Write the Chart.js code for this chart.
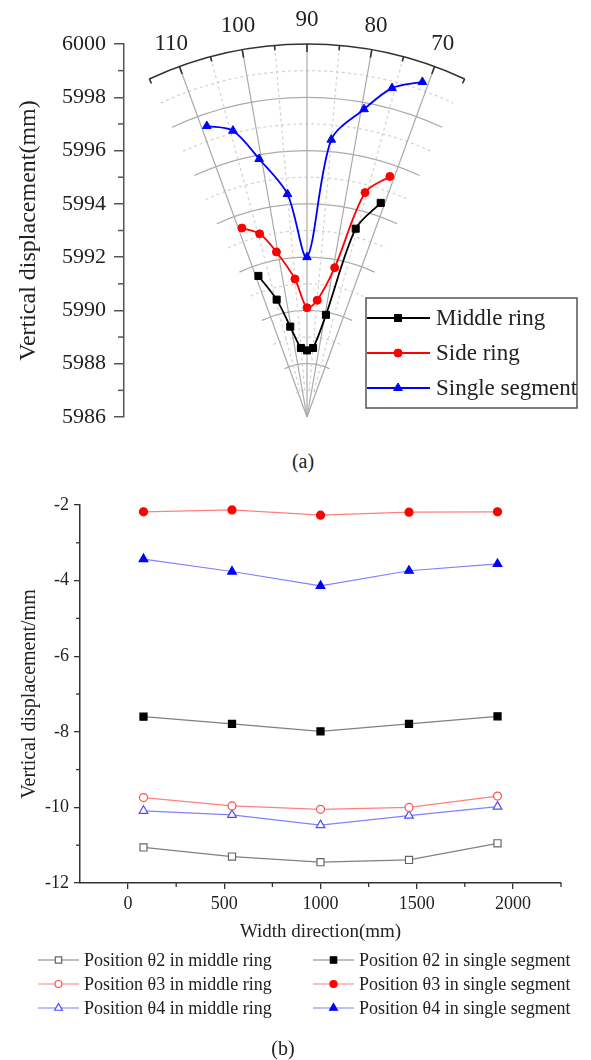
<!DOCTYPE html>
<html>
<head>
<meta charset="utf-8">
<script src="https://cdn.jsdelivr.net/npm/chart.js@4.4.1/dist/chart.umd.min.js"></script>
<style>
  html, body { margin: 0; padding: 0; background: #fff; }
  #wrap { position: relative; width: 591px; height: 1060px; overflow: hidden; }
  #polarBox { position: absolute; left: 0; top: 0; width: 591px; height: 440px; }
  #lineBox { position: absolute; left: 0; top: 470px; width: 591px; height: 590px; }
  .cap { position: absolute; font-family: 'Liberation Serif', 'Times New Roman', serif; font-size: 20px; color: #222; transform: translate(-50%, -50%); }
</style>
</head>
<body>
<div id="wrap">
  <div id="polarBox"><canvas id="polarChart"></canvas></div>
  <div class="cap" style="left:303px;top:461px">(a)</div>
  <div id="lineBox"><canvas id="lineChart"></canvas></div>
  <div class="cap" style="left:283px;top:1048px">(b)</div>
</div>

<script>
/* ---------- (a) polar sector: radial value vs angle ---------- */
const polarAngles   = [109, 104.5, 100.5, 95, 90, 85, 79.5, 75.5, 71];
const middleRing    = [5991.6, 5990.55, 5989.45, 5988.6, 5988.5, 5988.6, 5989.9, 5993.3, 5994.5];
const sideRing      = [5993.5, 5993.1, 5992.3, 5991.2, 5990.1, 5990.4, 5991.7, 5994.7, 5995.55];
const singleSegment = [5997.55, 5997.1, 5995.85, 5994.4, 5992.0, 5996.45, 5997.75, 5998.75, 5999.3];
const angleTicks    = [70, 80, 90, 100, 110];
const radialMin = 5986, radialMax = 6000;
const sectorFrom = 65, sectorTo = 115;

/* ---------- (b) width direction ---------- */
const widthPos     = [80, 540, 1000, 1460, 1920];
const theta2Middle = [-11.06, -11.30, -11.45, -11.39, -10.95];
const theta3Middle = [-9.74, -9.96, -10.05, -10.00, -9.70];
const theta4Middle = [-10.09, -10.20, -10.47, -10.22, -9.98];
const theta2Single = [-7.60, -7.79, -7.99, -7.79, -7.59];
const theta3Single = [-2.18, -2.13, -2.27, -2.19, -2.18];
const theta4Single = [-3.43, -3.76, -4.14, -3.74, -3.56];
const widthTicks   = [0, 500, 1000, 1500, 2000];
const widthMinor   = [250, 750, 1250, 1750, 2250];
const dispMinor    = [-3, -5, -7, -9, -11];

const SERIF = "'Liberation Serif', 'Times New Roman', serif";
Chart.defaults.font.family = SERIF;
Chart.defaults.color = '#222';

const toRad = d => d * Math.PI / 180;

function toXY(vals) {
  return vals.map((v, i) => ({
    x: (v - radialMin) * Math.cos(toRad(polarAngles[i])),
    y: radialMin + (v - radialMin) * Math.sin(toRad(polarAngles[i]))
  }));
}

function drawMarker(ctx, style, x, y, r, fill, stroke, lw) {
  ctx.save();
  ctx.beginPath();
  if (style === 'rect') {
    const s = Math.SQRT1_2 * r;
    ctx.rect(x - s, y - s, 2 * s, 2 * s);
  } else if (style === 'triangle') {
    ctx.moveTo(x, y - r);
    ctx.lineTo(x + Math.sin(toRad(120)) * r, y + r / 2);
    ctx.lineTo(x - Math.sin(toRad(120)) * r, y + r / 2);
    ctx.closePath();
  } else {
    ctx.arc(x, y, r, 0, Math.PI * 2);
  }
  ctx.fillStyle = fill;
  ctx.fill();
  ctx.lineWidth = lw;
  ctx.strokeStyle = stroke;
  ctx.stroke();
  ctx.restore();
}

// polar grid, outer scale arc, angle labels, minor ticks on the left axis
const polarGrid = {
  id: 'polarGrid',
  beforeDatasetsDraw(chart) {
    const { ctx, scales: { x, y } } = chart;
    const cx = x.getPixelForValue(0), cy = y.getPixelForValue(radialMin);
    const k = cy - y.getPixelForValue(radialMin + 1);
    const a0 = -toRad(sectorTo), a1 = -toRad(sectorFrom);
    const R = (radialMax - radialMin) * k;
    ctx.save();

    for (let v = radialMin + 1; v < radialMax; v++) {
      const odd = v % 2 !== 0;
      ctx.beginPath();
      ctx.setLineDash(odd ? [3, 3] : []);
      ctx.strokeStyle = odd ? '#d2d2d2' : '#aaaaaa';
      ctx.lineWidth = 1.2;
      ctx.arc(cx, cy, (v - radialMin) * k, a0, a1);
      ctx.stroke();
    }

    for (let d = 70; d <= 110; d += 5) {
      const major = d % 10 === 0;
      const r0 = major ? 0 : k;
      ctx.beginPath();
      ctx.setLineDash(major ? [] : [3, 3]);
      ctx.strokeStyle = major ? '#aaaaaa' : '#d2d2d2';
      ctx.lineWidth = 1.2;
      ctx.moveTo(cx + r0 * Math.cos(toRad(d)), cy - r0 * Math.sin(toRad(d)));
      ctx.lineTo(cx + R * Math.cos(toRad(d)), cy - R * Math.sin(toRad(d)));
      ctx.stroke();
    }

    ctx.setLineDash([]);
    ctx.strokeStyle = '#333';
    ctx.lineWidth = 1.6;
    ctx.beginPath();
    ctx.arc(cx, cy, R, a0, a1);
    ctx.stroke();
    for (let d = sectorFrom; d <= sectorTo; d += 5) {
      const len = d % 10 === 0 ? 8 : 5;
      ctx.beginPath();
      ctx.moveTo(cx + R * Math.cos(toRad(d)), cy - R * Math.sin(toRad(d)));
      ctx.lineTo(cx + (R - len) * Math.cos(toRad(d)), cy - (R - len) * Math.sin(toRad(d)));
      ctx.stroke();
    }

    ctx.fillStyle = '#222';
    ctx.font = '23px ' + SERIF;
    ctx.textAlign = 'center';
    ctx.textBaseline = 'middle';
    angleTicks.forEach(d => {
      const rl = R + 24;
      ctx.fillText(String(d), cx + rl * Math.cos(toRad(d)), cy - rl * Math.sin(toRad(d)));
    });

    // minor ticks on the y axis
    ctx.strokeStyle = '#555';
    ctx.lineWidth = 1.5;
    for (let v = radialMin + 1; v < radialMax; v += 2) {
      const py = y.getPixelForValue(v);
      ctx.beginPath();
      ctx.moveTo(y.right, py);
      ctx.lineTo(y.right - 6, py);
      ctx.stroke();
    }
    ctx.restore();
  }
};

const polarLegend = {
  id: 'polarLegend',
  afterDraw(chart) {
    const ctx = chart.ctx;
    ctx.save();
    ctx.strokeStyle = '#555';
    ctx.lineWidth = 1.5;
    ctx.strokeRect(366, 298, 211, 110);
    ctx.font = '23px ' + SERIF;
    ctx.textBaseline = 'middle';
    ctx.textAlign = 'left';
    chart.data.datasets.forEach((ds, i) => {
      const yy = 318 + i * 35;
      ctx.beginPath();
      ctx.strokeStyle = ds.borderColor;
      ctx.lineWidth = 1.8;
      ctx.moveTo(367, yy);
      ctx.lineTo(430, yy);
      ctx.stroke();
      drawMarker(ctx, ds.pointStyle, 398, yy, ds.pointRadius, ds.backgroundColor, ds.borderColor, 1);
      ctx.fillStyle = '#222';
      ctx.fillText(ds.label, 436, yy + 1);
    });
    ctx.restore();
  }
};

// x range picked so one radial unit has the same pixel length on both axes
const pxPerUnit = 373 / (radialMax - radialMin);
const polarXMin = -(307 - 124) / pxPerUnit;
const polarXMax = (580 - 307) / pxPerUnit;

new Chart(document.getElementById('polarChart'), {
  type: 'scatter',
  data: {
    datasets: [
      { label: 'Middle ring', data: toXY(middleRing), borderColor: '#000000', backgroundColor: '#000000', pointStyle: 'rect', pointRadius: 5 },
      { label: 'Side ring', data: toXY(sideRing), borderColor: '#ff0000', backgroundColor: '#ff0000', pointStyle: 'circle', pointRadius: 4 },
      { label: 'Single segment', data: toXY(singleSegment), borderColor: '#0000ff', backgroundColor: '#0000ff', pointStyle: 'triangle', pointRadius: 5 }
    ].map(d => Object.assign(d, { showLine: true, tension: 0.3, borderWidth: 1.8, pointBorderWidth: 1, clip: false }))
  },
  options: {
    responsive: true,
    maintainAspectRatio: false,
    animation: false,
    layout: { padding: { top: 44, right: 11, bottom: 23, left: 0 } },
    plugins: { legend: { display: false }, tooltip: { enabled: false } },
    scales: {
      x: { type: 'linear', display: false, min: polarXMin, max: polarXMax },
      y: {
        type: 'linear', min: radialMin, max: radialMax,
        afterFit: s => { s.width = 124; },
        ticks: { stepSize: 2, padding: 8, font: { size: 22 }, color: '#222', callback: v => String(v) },
        grid: { drawOnChartArea: false, tickLength: 10, color: '#555', lineWidth: 1.5 },
        border: { color: '#555', width: 1.5 },
        title: { display: true, text: 'Vertical displacement(mm)', font: { size: 24, lineHeight: 1.2 }, padding: { top: 14, bottom: 0 }, color: '#222' }
      }
    }
  },
  plugins: [polarGrid, polarLegend]
});

/* ---------- (b) ---------- */
function pts(vals) { return vals.map((v, i) => ({ x: widthPos[i], y: v })); }

const lineMinorTicks = {
  id: 'lineMinorTicks',
  afterDraw(chart) {
    const { ctx, scales: { x, y } } = chart;
    ctx.save();
    ctx.strokeStyle = '#333';
    ctx.lineWidth = 1.3;
    widthMinor.forEach(v => {
      const px = x.getPixelForValue(v);
      ctx.beginPath();
      ctx.moveTo(px, x.top);
      ctx.lineTo(px, x.top + 4);
      ctx.stroke();
    });
    dispMinor.forEach(v => {
      const py = y.getPixelForValue(v);
      ctx.beginPath();
      ctx.moveTo(y.right, py);
      ctx.lineTo(y.right - 4, py);
      ctx.stroke();
    });
    ctx.restore();
  }
};

const lineLegend = {
  id: 'lineLegend',
  afterDraw(chart) {
    const ctx = chart.ctx;
    ctx.save();
    ctx.font = '18px ' + SERIF;
    ctx.textBaseline = 'middle';
    ctx.textAlign = 'left';
    chart.data.datasets.forEach((ds, i) => {
      const col = i < 3 ? 0 : 1;
      const row = i % 3;
      const x0 = col ? 313 : 38;
      const yy = 490 + row * 24;
      ctx.beginPath();
      ctx.strokeStyle = ds.borderColor;
      ctx.lineWidth = 1.2;
      ctx.moveTo(x0, yy);
      ctx.lineTo(x0 + 41, yy);
      ctx.stroke();
      drawMarker(ctx, ds.pointStyle, x0 + 20.5, yy, ds.pointRadius - 0.5, ds.pointBackgroundColor, ds.pointBorderColor, 1.2);
      ctx.fillStyle = '#222';
      ctx.fillText(ds.label, x0 + 46, yy + 1);
    });
    ctx.restore();
  }
};

new Chart(document.getElementById('lineChart'), {
  type: 'scatter',
  data: {
    datasets: [
      { label: 'Position θ2 in middle ring', data: pts(theta2Middle), borderColor: '#808080', pointBorderColor: '#666666', pointBackgroundColor: '#ffffff', pointStyle: 'rect', pointRadius: 5 },
      { label: 'Position θ3 in middle ring', data: pts(theta3Middle), borderColor: '#ff8080', pointBorderColor: '#ff4d4d', pointBackgroundColor: '#ffffff', pointStyle: 'circle', pointRadius: 4 },
      { label: 'Position θ4 in middle ring', data: pts(theta4Middle), borderColor: '#8080ff', pointBorderColor: '#4d4dff', pointBackgroundColor: '#ffffff', pointStyle: 'triangle', pointRadius: 5 },
      { label: 'Position θ2 in single segment', data: pts(theta2Single), borderColor: '#808080', pointBorderColor: '#000000', pointBackgroundColor: '#000000', pointStyle: 'rect', pointRadius: 5 },
      { label: 'Position θ3 in single segment', data: pts(theta3Single), borderColor: '#ff8080', pointBorderColor: '#ff0000', pointBackgroundColor: '#ff0000', pointStyle: 'circle', pointRadius: 4 },
      { label: 'Position θ4 in single segment', data: pts(theta4Single), borderColor: '#8080ff', pointBorderColor: '#0000ff', pointBackgroundColor: '#0000ff', pointStyle: 'triangle', pointRadius: 5 }
    ].map(d => Object.assign(d, { showLine: true, tension: 0, borderWidth: 1.2, pointBorderWidth: 1.2, clip: false }))
  },
  options: {
    responsive: true,
    maintainAspectRatio: false,
    animation: false,
    layout: { padding: { top: 35, right: 30, bottom: 117, left: 0 } },
    plugins: { legend: { display: false }, tooltip: { enabled: false } },
    scales: {
      x: {
        type: 'linear', min: -250, max: 2250,
        afterBuildTicks: s => { s.ticks = widthTicks.map(v => ({ value: v })); },
        afterFit: s => { s.height = 60; },
        ticks: { padding: 4, font: { size: 18 }, color: '#222', maxRotation: 0, autoSkip: false, callback: v => String(v) },
        grid: { drawOnChartArea: false, tickLength: 6, color: '#333', lineWidth: 1.3 },
        border: { color: '#333', width: 1.5 },
        title: { display: true, text: 'Width direction(mm)', font: { size: 19, lineHeight: 1.2 }, padding: { top: 0, bottom: 0 }, color: '#222' }
      },
      y: {
        type: 'linear', min: -12, max: -2,
        afterFit: s => { s.width = 80; },
        ticks: { stepSize: 2, padding: 5, font: { size: 18 }, color: '#222', callback: v => String(v) },
        grid: { drawOnChartArea: false, tickLength: 6, color: '#333', lineWidth: 1.3 },
        border: { color: '#333', width: 1.5 },
        title: { display: true, text: 'Vertical displacement/mm', font: { size: 20, lineHeight: 1.2 }, padding: { top: 18, bottom: 0 }, color: '#222' }
      }
    }
  },
  plugins: [lineMinorTicks, lineLegend]
});
</script>
</body>
</html>
